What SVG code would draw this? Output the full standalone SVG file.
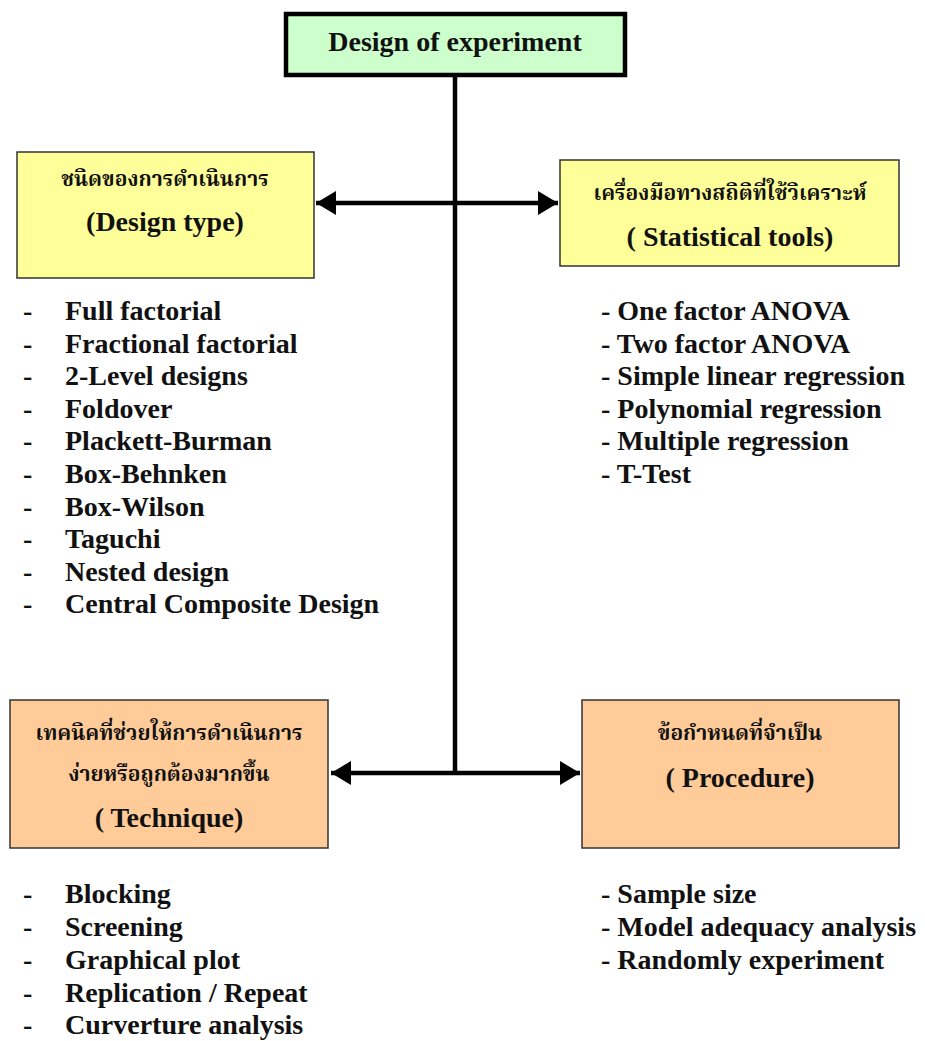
<svg xmlns="http://www.w3.org/2000/svg" width="925" height="1041" viewBox="0 0 925 1041">
<defs>
<style>
.t{font-family:'Liberation Serif',serif;font-weight:bold;font-size:28px;fill:#111;}
.th{font-family:'Noto Serif Thai',serif;font-weight:bold;font-size:21px;fill:#111;}
.c{text-anchor:middle;}
.yellow{fill:#ffff99;stroke:#333;stroke-width:1.5;}
.orange{fill:#ffcc99;stroke:#333;stroke-width:1.5;}
.conn{stroke:#000;stroke-width:4.5;fill:none;}
</style>
<marker id="ah" markerUnits="userSpaceOnUse" markerWidth="22" markerHeight="26" refX="20" refY="12" orient="auto-start-reverse">
<path d="M0,0 L20,12 L0,24 Z" fill="#000"/>
</marker>
</defs>
<rect width="925" height="1041" fill="#fff"/>
<g id="connectors">
<line class="conn" x1="455" y1="76" x2="455" y2="775"/>
<line class="conn" x1="316" y1="203" x2="558" y2="203" marker-start="url(#ah)" marker-end="url(#ah)"/>
<line class="conn" x1="331" y1="773" x2="580" y2="773" marker-start="url(#ah)" marker-end="url(#ah)"/>
</g>
<g id="design-of-experiment">
<rect x="286" y="14" width="339" height="61" fill="#ccffcc" stroke="#000" stroke-width="4.5"/>
<text class="t c" x="455" y="51">Design of experiment</text>
</g>
<g id="design-type">
<rect class="yellow" x="17" y="152" width="297" height="126"/>
<text class="th c" x="165" y="186">ชนิดของการดำเนินการ</text>
<text class="t c" x="165" y="231">(Design type)</text>
</g>
<g id="statistical-tools">
<rect class="yellow" x="560" y="160" width="339" height="106"/>
<text class="th c" x="730" y="200">เครื่องมือทางสถิติที่ใช้วิเคราะห์</text>
<text class="t c" x="730" y="246">( Statistical tools)</text>
</g>
<g id="technique">
<rect class="orange" x="10" y="700" width="318" height="148"/>
<text class="th c" x="169" y="740">เทคนิคที่ช่วยให้การดำเนินการ</text>
<text class="th c" x="169" y="781">ง่ายหรือถูกต้องมากขึ้น</text>
<text class="t c" x="169" y="827">( Technique)</text>
</g>
<g id="procedure">
<rect class="orange" x="582" y="700" width="317" height="148"/>
<text class="th c" x="740" y="740">ข้อกำหนดที่จำเป็น</text>
<text class="t c" x="740" y="787">( Procedure)</text>
</g>
<g id="design-type-list">
<text class="t" x="23" y="320">-</text><text class="t" x="65" y="320">Full factorial</text>
<text class="t" x="23" y="352.6">-</text><text class="t" x="65" y="352.6">Fractional factorial</text>
<text class="t" x="23" y="385.2">-</text><text class="t" x="65" y="385.2">2-Level designs</text>
<text class="t" x="23" y="417.8">-</text><text class="t" x="65" y="417.8">Foldover</text>
<text class="t" x="23" y="450.4">-</text><text class="t" x="65" y="450.4">Plackett-Burman</text>
<text class="t" x="23" y="483">-</text><text class="t" x="65" y="483">Box-Behnken</text>
<text class="t" x="23" y="515.6">-</text><text class="t" x="65" y="515.6">Box-Wilson</text>
<text class="t" x="23" y="548.2">-</text><text class="t" x="65" y="548.2">Taguchi</text>
<text class="t" x="23" y="580.8">-</text><text class="t" x="65" y="580.8">Nested design</text>
<text class="t" x="23" y="613.4">-</text><text class="t" x="65" y="613.4">Central Composite Design</text>
</g>
<g id="statistical-tools-list">
<text class="t" x="601" y="320">- One factor ANOVA</text>
<text class="t" x="601" y="352.6">- Two factor ANOVA</text>
<text class="t" x="601" y="385.2">- Simple linear regression</text>
<text class="t" x="601" y="417.8">- Polynomial regression</text>
<text class="t" x="601" y="450.4">- Multiple regression</text>
<text class="t" x="601" y="483">- T-Test</text>
</g>
<g id="technique-list">
<text class="t" x="23" y="903">-</text><text class="t" x="65" y="903">Blocking</text>
<text class="t" x="23" y="936">-</text><text class="t" x="65" y="936">Screening</text>
<text class="t" x="23" y="969">-</text><text class="t" x="65" y="969">Graphical plot</text>
<text class="t" x="23" y="1002">-</text><text class="t" x="65" y="1002">Replication / Repeat</text>
<text class="t" x="23" y="1034">-</text><text class="t" x="65" y="1034">Curverture analysis</text>
</g>
<g id="procedure-list">
<text class="t" x="601" y="903">- Sample size</text>
<text class="t" x="601" y="936">- Model adequacy analysis</text>
<text class="t" x="601" y="969">- Randomly experiment</text>
</g>
</svg>
